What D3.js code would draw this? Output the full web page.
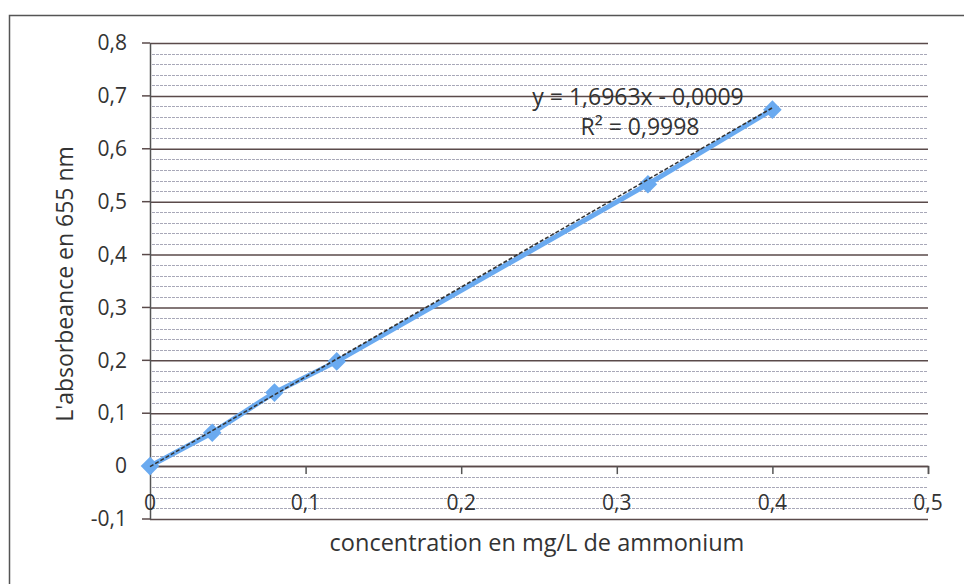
<!DOCTYPE html>
<html>
<head>
<meta charset="utf-8">
<script src="https://cdn.jsdelivr.net/npm/d3@7"></script>
<style>
  body { margin: 0; background: #fff; }
  svg text { font-family: "Open Sans", sans-serif; fill: #333; }
</style>
</head>
<body>
<div id="chart"></div>
<script>
// Calibration data
const concentrations = [0, 0.04, 0.08, 0.12, 0.32, 0.4];
const absorbances = [0, 0.063, 0.139, 0.198, 0.533, 0.674];
const slope = 1.6963;
const intercept = -0.0009;
const xTicks = [0, 0.1, 0.2, 0.3, 0.4, 0.5];
const yTicks = [-0.1, 0, 0.1, 0.2, 0.3, 0.4, 0.5, 0.6, 0.7, 0.8];
const equationText = 'y = 1,6963x - 0,0009';
const r2Text = 'R² = 0,9998';

const W = 964, H = 584;
const margin = { top: 43, right: 36, bottom: 65, left: 150 };
const width = W - margin.left - margin.right;
const height = H - margin.top - margin.bottom;

const svgRoot = d3.select('#chart').append('svg')
    .attr('width', W)
    .attr('height', H);

// Outer chart border
svgRoot.append('rect')
    .attr('x', 9.5).attr('y', 15.5)
    .attr('width', 1000).attr('height', 1000)
    .attr('fill', 'none')
    .attr('stroke', '#555')
    .attr('stroke-width', 1.5);

const svg = svgRoot.append('g')
    .attr('transform', `translate(${margin.left},${margin.top})`);

const x = d3.scaleLinear().domain([0, 0.5]).range([0, width]);
const y = d3.scaleLinear().domain([-0.1, 0.8]).range([height, 0]);

const fmtTick = d => d === 0 ? '0' : String(d).replace('.', ',');

// Minor gridlines every 0.02
const minor = d3.range(-0.08, 0.8, 0.02).filter(v => Math.abs(Math.round(v * 10) - v * 10) > 0.01);
svg.append('g')
    .selectAll('line')
    .data(minor)
    .enter()
    .append('line')
    .attr('x1', 2).attr('x2', width)
    .attr('y1', d => Math.round(y(d)) + 0.5)
    .attr('y2', d => Math.round(y(d)) + 0.5)
    .attr('stroke', '#a8a8b8')
    .attr('stroke-width', 1)
    .attr('stroke-dasharray', '3,1');

// Major gridlines
svg.append('g')
    .attr('class', 'grid')
    .call(d3.axisLeft(y).tickValues(yTicks).tickSize(-width).tickFormat(''))
    .call(g => g.select('.domain').remove())
    .call(g => g.selectAll('line').attr('stroke', '#5a4a4a').attr('stroke-width', 1.5));

// Major tick extension outside
svg.append('g')
    .selectAll('line')
    .data(yTicks)
    .enter()
    .append('line')
    .attr('x1', -8).attr('x2', 0)
    .attr('y1', d => y(d)).attr('y2', d => y(d))
    .attr('stroke', '#5a4a4a').attr('stroke-width', 1.5);

// Y axis
const yAxis = svg.append('g')
    .call(d3.axisLeft(y).tickValues(yTicks).tickSize(0).tickPadding(23).tickFormat(fmtTick));
yAxis.select('.domain').attr('stroke', '#555').attr('stroke-width', 1.5);
yAxis.selectAll('text').style('font-size', '21px').style('font-family', '"Open Sans", sans-serif');

// X axis on y = 0
const xAxis = svg.append('g')
    .attr('transform', `translate(0,${y(0)})`)
    .call(d3.axisBottom(x).tickValues(xTicks).tickSize(8).tickFormat(''));
xAxis.select('.domain').attr('stroke', '#5a4a4a').attr('stroke-width', 1.5);
xAxis.selectAll('line').attr('stroke', '#555').attr('stroke-width', 1.5);

// X tick labels
svg.append('g')
    .selectAll('text')
    .data(xTicks)
    .enter()
    .append('text')
    .attr('x', d => x(d))
    .attr('y', y(0) + 44)
    .attr('text-anchor', 'middle')
    .style('font-size', '21px')
    .text(fmtTick);

// Data series line
const pts = concentrations.map((c, i) => ({ c: c, a: absorbances[i] }));
const line = d3.line().x(d => x(d.c)).y(d => y(d.a));
svg.append('path')
    .datum(pts)
    .attr('fill', 'none')
    .attr('stroke', '#6aaaf0')
    .attr('stroke-width', 5)
    .attr('d', line);

// Markers (diamonds)
svg.selectAll('.marker')
    .data(pts)
    .enter()
    .append('path')
    .attr('class', 'marker')
    .attr('transform', d => `translate(${x(d.c)},${y(d.a)})`)
    .attr('d', d3.symbol().type(d3.symbolDiamond2).size(220))
    .attr('fill', '#6aaaf0');

// Linear trendline
const xMin = d3.min(concentrations), xMax = d3.max(concentrations);
svg.append('line')
    .attr('x1', x(xMin)).attr('y1', y(slope * xMin + intercept))
    .attr('x2', x(xMax)).attr('y2', y(slope * xMax + intercept))
    .attr('stroke', '#333')
    .attr('stroke-width', 1.6)
    .attr('stroke-dasharray', '4,2');

// Equation labels
svg.append('text')
    .attr('x', 488).attr('y', 62)
    .attr('text-anchor', 'middle')
    .style('font-size', '23px')
    .text(equationText);
svg.append('text')
    .attr('x', 490).attr('y', 92)
    .attr('text-anchor', 'middle')
    .style('font-size', '23px')
    .text(r2Text);

// Axis titles
svg.append('text')
    .attr('x', 387).attr('y', height + 32)
    .attr('text-anchor', 'middle')
    .style('font-size', '23.5px')
    .text('concentration en mg/L de ammonium');

svg.append('text')
    .attr('transform', 'rotate(-90)')
    .attr('x', -241).attr('y', -77)
    .attr('text-anchor', 'middle')
    .style('font-size', '23px')
    .text("L'absorbeance en 655 nm");
</script>
</body>
</html>
